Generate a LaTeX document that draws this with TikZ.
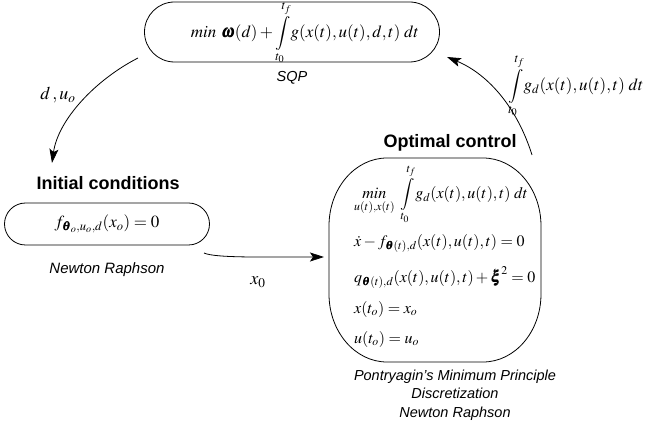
\documentclass[tikz,border=0pt]{standalone}
\usepackage{amsmath}
\usepackage{mathptmx}
\usepackage{bm}
\usepackage[no-math]{fontspec}
\setmainfont{Liberation Sans}
\usetikzlibrary{arrows.meta}
\tikzset{
  procbox/.style={draw, line width=0.8pt, inner sep=0pt},
  outline/.style={line width=0.8pt},
  title/.style={font=\fontsize{18}{20}\selectfont\bfseries},
  method/.style={font=\fontsize{14.5}{17}\selectfont\itshape, align=center},
  flow/.style={line width=0.8pt, -{Stealth[length=14pt,width=9pt,inset=3pt]}},
  mathlbl/.style={font=\fontsize{18}{20}\selectfont},
  mth/.style={font=\fontsize{17}{20}\selectfont},
  octext/.style={font=\fontsize{16}{19}\selectfont}
}
\newcommand{\myint}{\displaystyle\int\limits_{t_0}^{t_f}\!}
\begin{document}
\begin{tikzpicture}[x=1pt,y=-1pt]
\useasboundingbox (0,0) rectangle (648,427);
% top SQP box
\node[procbox, rounded corners=30pt, minimum width=295pt, minimum height=60pt] (sqp) at (292,32) {};
\node[mth] (sqpt) at (305,33)
  {$\mathit{min}\ \bm{\omega}(d)+\myint g(x(t),u(t),d,t)\;dt$};
\node[method] (sqplbl) at (292,78) {SQP};
% initial conditions
\node[title] (ictitle) at (108,183) {Initial conditions};
\node[procbox, rounded corners=21pt, minimum width=205pt, minimum height=42pt, mth] (ic) at (107,224)
  {$f_{\bm{\theta}_o,u_o,d}(x_o)=0$};
\node[method, font=\fontsize{15}{17}\selectfont\itshape] (iclbl) at (107,270) {Newton Raphson};
% optimal control
\node[title] (octitle) at (450,143) {Optimal control};
\draw[outline] (387,158) -- (483,158)
  arc[start angle=90, end angle=0, x radius=58pt, y radius=68pt] -- (541,294)
  arc[start angle=0, end angle=-90, x radius=58pt, y radius=68pt] -- (387,362)
  arc[start angle=-90, end angle=-180, x radius=58pt, y radius=68pt] -- (329,226)
  arc[start angle=180, end angle=90, x radius=58pt, y radius=68pt] -- cycle;
\node[octext, anchor=north west, align=left, inner sep=0pt] (oc) at (354,164) {%
  $\displaystyle\mathop{\mathit{min}}\limits_{u(t),x(t)}\ \myint g_d(x(t),u(t),t)\;dt$\\[9pt]
  $\dot x - f_{\bm{\theta}(t),d}(x(t),u(t),t)=0$\\[13pt]
  $q_{\bm{\theta}(t),d}(x(t),u(t),t)+\bm{\xi}^2=0$\\[12pt]
  $x(t_o)=x_o$\\[11pt]
  $u(t_o)=u_o$};
\node[method, font=\fontsize{14.5}{18.5}\selectfont\itshape] (oclbl) at (455,395) {Pontryagin's Minimum Principle\\Discretization\\Newton Raphson};
% connectors
\coordinate (a1s) at (138,58);
\coordinate (a1e) at (52,163);
\draw[flow] (a1s) .. controls (95,80) and (58,120) .. (a1e);
\node[mathlbl] (lbl1) at (58,95) {$d\,,u_o$};
\coordinate (a2s) at (204,253);
\coordinate (a2e) at (324,257);
\draw[flow] (a2s) .. controls (215,258) and (260,257) .. (a2e);
\node[mathlbl] (lbl2) at (258,282) {$x_0$};
\coordinate (a3s) at (532,155);
\coordinate (a3e) at (447,57);
\draw[flow] (a3s) .. controls (518,110) and (490,75) .. (a3e);
\node[mth] (lbl3) at (576,86) {$\myint g_d(x(t),u(t),t)\;dt$};
\end{tikzpicture}
\end{document}
